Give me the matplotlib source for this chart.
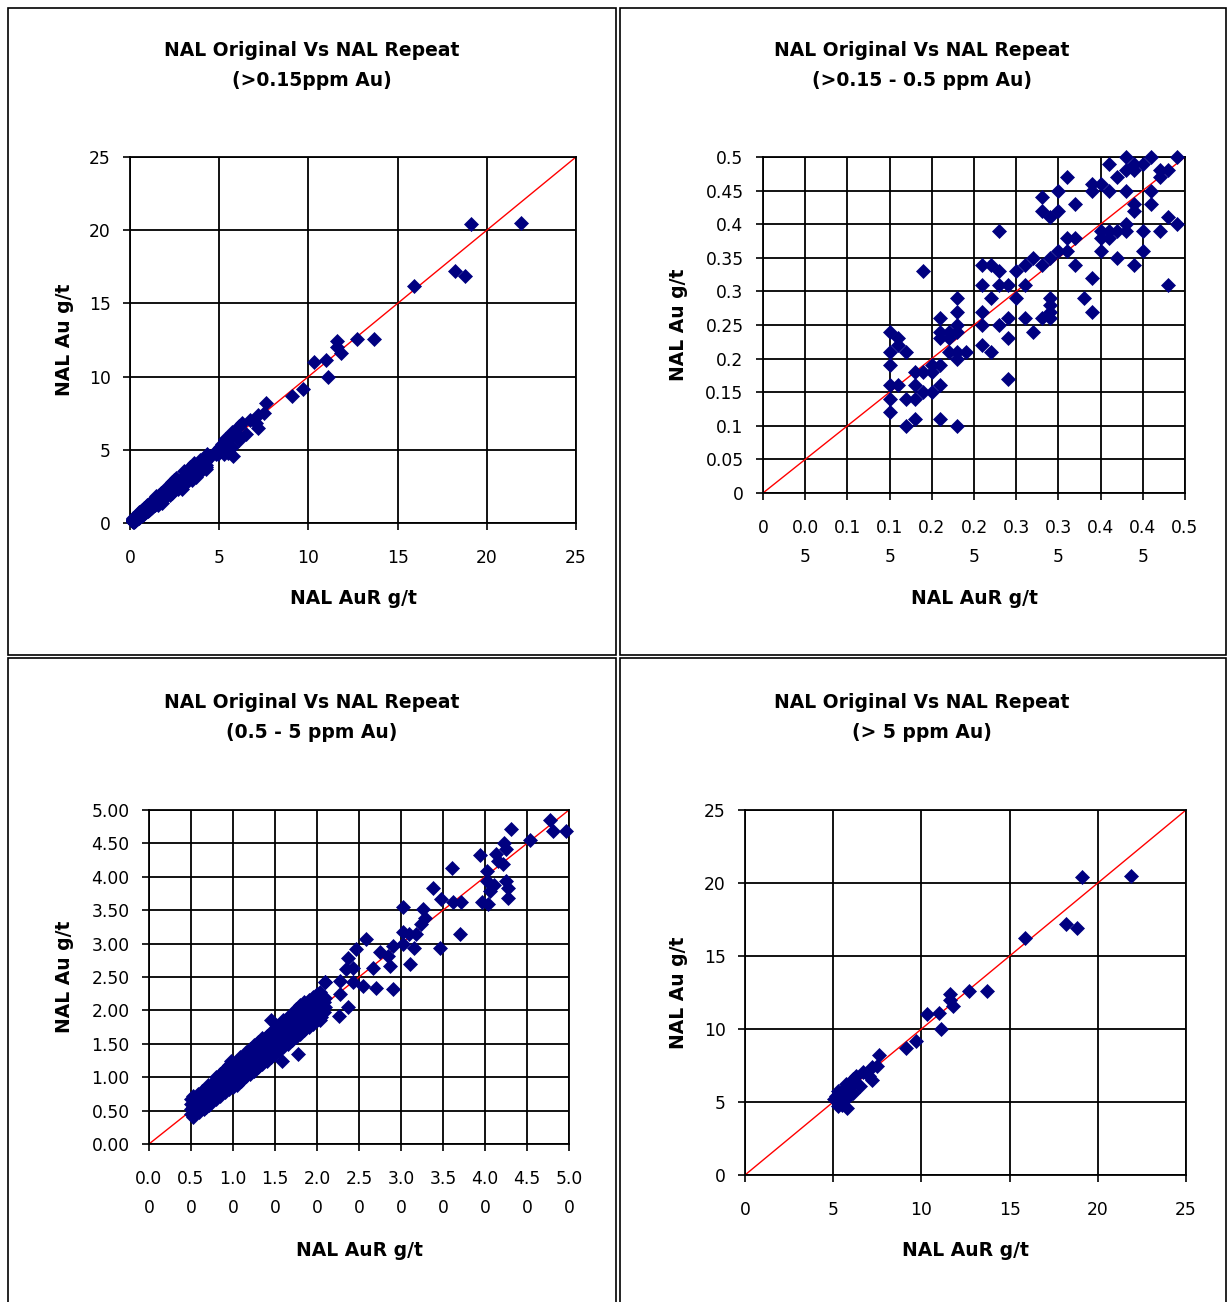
import numpy as np
import matplotlib.pyplot as plt
from matplotlib.patches import Rectangle

# ---- data: x = NAL AuR (repeat) g/t, y = NAL Au (original) g/t ----
# >0.15 - 0.5 ppm Au
low_x = [0.15, 0.15, 0.16, 0.17, 0.16, 0.15, 0.15, 0.16, 0.15, 0.15,
         0.17, 0.17, 0.18, 0.18, 0.18, 0.19, 0.19, 0.18, 0.19, 0.20,
         0.20, 0.21, 0.21, 0.23, 0.21, 0.21, 0.22, 0.21, 0.22, 0.21,
         0.20, 0.23, 0.23, 0.23, 0.23, 0.23, 0.23, 0.24, 0.22, 0.26,
         0.27, 0.28, 0.26, 0.26, 0.26, 0.26, 0.27, 0.27, 0.28, 0.28,
         0.29, 0.28, 0.29, 0.29, 0.29, 0.30, 0.30, 0.31, 0.31, 0.31,
         0.32, 0.33, 0.34, 0.32, 0.33, 0.34, 0.34, 0.34, 0.34, 0.33,
         0.33, 0.34, 0.35, 0.35, 0.36, 0.37, 0.35, 0.36, 0.37, 0.36,
         0.37, 0.38, 0.39, 0.39, 0.39, 0.40, 0.39, 0.41, 0.41, 0.40,
         0.40, 0.41, 0.42, 0.40, 0.41, 0.42, 0.43, 0.43, 0.44, 0.45,
         0.45, 0.47, 0.48, 0.48, 0.49, 0.44, 0.44, 0.46, 0.46, 0.43,
         0.42, 0.43, 0.43, 0.44, 0.46, 0.45, 0.49, 0.47, 0.48, 0.47,
         0.44]
low_y = [0.24, 0.21, 0.22, 0.21, 0.23, 0.19, 0.16, 0.16, 0.14, 0.12,
         0.14, 0.10, 0.11, 0.16, 0.18, 0.18, 0.33, 0.14, 0.15, 0.15,
         0.18, 0.16, 0.11, 0.10, 0.26, 0.24, 0.24, 0.23, 0.21, 0.19,
         0.19, 0.29, 0.27, 0.25, 0.24, 0.21, 0.20, 0.21, 0.23, 0.34,
         0.34, 0.33, 0.31, 0.27, 0.25, 0.22, 0.21, 0.29, 0.39, 0.31,
         0.31, 0.25, 0.26, 0.23, 0.17, 0.29, 0.33, 0.26, 0.31, 0.34,
         0.35, 0.34, 0.35, 0.24, 0.26, 0.26, 0.29, 0.28, 0.27, 0.44,
         0.42, 0.41, 0.45, 0.42, 0.47, 0.43, 0.36, 0.38, 0.38, 0.36,
         0.34, 0.29, 0.32, 0.27, 0.46, 0.46, 0.45, 0.45, 0.49, 0.39,
         0.38, 0.39, 0.39, 0.36, 0.38, 0.35, 0.39, 0.40, 0.34, 0.39,
         0.36, 0.39, 0.31, 0.41, 0.40, 0.43, 0.42, 0.45, 0.43, 0.45,
         0.47, 0.48, 0.50, 0.49, 0.50, 0.49, 0.50, 0.48, 0.48, 0.47,
         0.48]

# 0.5 - 5 ppm Au
mid_x = [0.50, 0.50, 0.50, 0.50, 0.52, 0.52, 0.52, 0.55, 0.55, 0.55,
         0.58, 0.58, 0.58, 0.60, 0.60, 0.60, 0.60, 0.63, 0.63, 0.63,
         0.65, 0.65, 0.65, 0.68, 0.68, 0.68, 0.68, 0.70, 0.70, 0.70,
         0.72, 0.72, 0.75, 0.75, 0.75, 0.75, 0.78, 0.78, 0.78, 0.80,
         0.80, 0.80, 0.80, 0.83, 0.83, 0.85, 0.85, 0.85, 0.85, 0.88,
         0.88, 0.88, 0.90, 0.90, 0.90, 0.90, 0.93, 0.93, 0.95, 0.95,
         0.95, 0.95, 0.98, 0.98, 0.98, 1.00, 1.00, 1.00, 1.00, 1.03,
         1.03, 1.03, 1.05, 1.05, 1.05, 1.05, 1.08, 1.08, 1.08, 1.10,
         1.10, 1.10, 1.10, 1.13, 1.13, 1.13, 1.15, 1.15, 1.15, 1.15,
         1.18, 1.18, 1.18, 1.20, 1.20, 1.20, 1.20, 1.23, 1.23, 1.23,
         1.25, 1.25, 1.25, 1.25, 1.28, 1.28, 1.28, 1.30, 1.30, 1.30,
         1.30, 1.33, 1.33, 1.33, 1.35, 1.35, 1.35, 1.35, 1.38, 1.38,
         1.38, 1.40, 1.40, 1.40, 1.40, 1.43, 1.43, 1.43, 1.45, 1.45,
         1.45, 1.45, 1.48, 1.48, 1.48, 1.50, 1.50, 1.50, 1.50, 1.53,
         1.53, 1.53, 1.55, 1.55, 1.55, 1.55, 1.58, 1.58, 1.58, 1.60,
         1.60, 1.60, 1.60, 1.63, 1.63, 1.63, 1.65, 1.65, 1.65, 1.65,
         1.68, 1.68, 1.68, 1.70, 1.70, 1.70, 1.70, 1.73, 1.73, 1.73,
         1.75, 1.75, 1.75, 1.75, 1.78, 1.78, 1.78, 1.80, 1.80, 1.80,
         1.80, 1.83, 1.83, 1.83, 1.85, 1.85, 1.85, 1.85, 1.88, 1.88,
         1.88, 1.90, 1.90, 1.90, 1.90, 1.93, 1.93, 1.93, 1.95, 1.95,
         1.95, 1.95, 1.98, 1.98, 1.98, 2.00, 2.00, 2.00, 2.00, 2.03,
         2.03, 2.03, 2.03, 2.05, 2.05, 2.05, 2.08, 2.08, 2.10, 2.10,
         # scattered values above ~2
         4.77, 4.81, 4.96, 4.54, 4.31, 4.23, 4.25, 4.13, 3.94, 4.22,
         4.16, 3.61, 4.02, 4.02, 4.11, 4.06, 4.25, 4.27, 4.27, 3.96,
         4.04, 3.38, 3.48, 3.62, 3.72, 3.02, 3.26, 3.28, 3.24, 3.70,
         3.46, 3.02, 3.10, 3.18, 2.58, 2.90, 3.02, 3.15, 2.47, 2.75,
         2.85, 3.11, 2.37, 2.43, 2.35, 2.67, 2.87, 2.10, 2.27, 2.43,
         2.70, 2.90, 2.55, 2.27, 2.37, 2.26, 1.77, 1.58, 1.45, 2.03,
         2.09]
mid_y = [0.45, 0.52, 0.60, 0.68, 0.40, 0.55, 0.72, 0.48, 0.62, 0.58,
         0.50, 0.66, 0.75, 0.55, 0.62, 0.70, 0.48, 0.58, 0.72, 0.80,
         0.52, 0.66, 0.75, 0.60, 0.70, 0.82, 0.55, 0.64, 0.78, 0.88,
         0.58, 0.70, 0.66, 0.78, 0.90, 0.72, 0.70, 0.84, 0.95, 0.68,
         0.76, 0.88, 1.00, 0.75, 0.90, 0.72, 0.82, 0.95, 1.05, 0.80,
         0.92, 1.08, 0.78, 0.86, 1.00, 1.12, 0.85, 0.98, 0.82, 0.92,
         1.05, 1.18, 0.90, 1.02, 1.25, 0.85, 0.95, 1.10, 1.20, 0.92,
         1.05, 1.15, 0.88, 1.00, 1.12, 1.25, 0.98, 1.10, 1.30, 0.95,
         1.05, 1.18, 1.28, 1.00, 1.12, 1.22, 1.02, 1.15, 1.30, 1.38,
         1.08, 1.20, 1.32, 1.05, 1.15, 1.25, 1.42, 1.12, 1.28, 1.40,
         1.10, 1.20, 1.35, 1.48, 1.18, 1.30, 1.45, 1.15, 1.25, 1.40,
         1.52, 1.22, 1.35, 1.50, 1.20, 1.32, 1.45, 1.58, 1.28, 1.42,
         1.55, 1.25, 1.38, 1.50, 1.62, 1.32, 1.48, 1.60, 1.30, 1.42,
         1.55, 1.68, 1.38, 1.52, 1.65, 1.35, 1.48, 1.60, 1.72, 1.42,
         1.58, 1.70, 1.40, 1.52, 1.65, 1.78, 1.48, 1.62, 1.75, 1.45,
         1.58, 1.70, 1.85, 1.55, 1.68, 1.82, 1.50, 1.62, 1.78, 1.90,
         1.58, 1.72, 1.88, 1.55, 1.68, 1.82, 1.95, 1.62, 1.78, 1.92,
         1.60, 1.72, 1.88, 2.02, 1.68, 1.82, 1.98, 1.65, 1.78, 1.92,
         2.08, 1.72, 1.88, 2.02, 1.70, 1.82, 1.98, 2.12, 1.78, 1.92,
         2.08, 1.75, 1.88, 2.02, 2.15, 1.82, 1.98, 2.10, 1.80, 1.92,
         2.05, 2.20, 1.88, 2.02, 2.15, 1.85, 1.98, 2.10, 2.25, 1.85,
         1.95, 2.08, 2.28, 1.90, 2.02, 2.15, 1.98, 2.12, 2.05, 2.18,
         4.85, 4.68, 4.68, 4.55, 4.72, 4.50, 4.42, 4.34, 4.33, 4.19,
         4.24, 4.13, 4.09, 3.94, 3.87, 3.79, 3.94, 3.83, 3.69, 3.62,
         3.59, 3.83, 3.67, 3.62, 3.62, 3.55, 3.52, 3.39, 3.29, 3.14,
         2.94, 3.17, 3.14, 3.14, 3.07, 2.97, 2.99, 2.94, 2.92, 2.87,
         2.82, 2.69, 2.79, 2.64, 2.62, 2.64, 2.67, 2.42, 2.44, 2.42,
         2.34, 2.32, 2.37, 2.25, 2.05, 1.92, 1.35, 1.25, 1.85, 2.15,
         2.43]

# > 5 ppm Au
high_x = [19.1, 21.9, 18.2, 18.8, 15.9, 13.7, 12.7, 11.6, 11.6, 11.8,
          10.3, 11.0, 11.1, 9.7, 9.1, 7.6, 7.5, 7.2, 7.05, 7.2,
          6.7, 6.3, 6.1, 6.0, 5.7, 5.6, 5.3, 5.15, 5.05, 5.3,
          5.5, 5.8, 5.25, 5.7, 6.1, 6.5, 5.45]
high_y = [20.4, 20.5, 17.2, 16.9, 16.2, 12.6, 12.6, 12.4, 12.0, 11.6,
          11.0, 11.1, 10.0, 9.15, 8.7, 8.2, 7.5, 7.4, 6.8, 6.5,
          7.05, 6.8, 6.6, 6.1, 6.2, 5.9, 5.75, 5.4, 5.2, 5.05,
          4.8, 4.6, 4.7, 5.2, 5.65, 6.1, 5.4]

all_x = low_x + mid_x + high_x
all_y = low_y + mid_y + high_y

ticks_25 = [0, 5, 10, 15, 20, 25]
labels_25 = ['0', '5', '10', '15', '20', '25']
ticks_05 = [0, 0.05, 0.1, 0.15, 0.2, 0.25, 0.3, 0.35, 0.4, 0.45, 0.5]
ylabels_05 = ['0', '0.05', '0.1', '0.15', '0.2', '0.25', '0.3', '0.35',
              '0.4', '0.45', '0.5']
xlabels_05 = ['0', '0.0\n5', '0.1', '0.1\n5', '0.2', '0.2\n5', '0.3',
              '0.3\n5', '0.4', '0.4\n5', '0.5']
ticks_5 = [0, 0.5, 1, 1.5, 2, 2.5, 3, 3.5, 4, 4.5, 5]
ylabels_5 = ['0.00', '0.50', '1.00', '1.50', '2.00', '2.50', '3.00',
             '3.50', '4.00', '4.50', '5.00']
xlabels_5 = ['0.0\n0', '0.5\n0', '1.0\n0', '1.5\n0', '2.0\n0', '2.5\n0',
             '3.0\n0', '3.5\n0', '4.0\n0', '4.5\n0', '5.0\n0']

W, H = 1227, 1302
fig = plt.figure(figsize=(W / 100, H / 100), dpi=100)
fig.patch.set_facecolor('white')

# panel frames (pixel boxes)
for l, t, r, b in [(8, 8, 616, 655), (620, 8, 1226, 655),
                   (8, 658, 616, 1310), (620, 658, 1226, 1310)]:
    fig.patches.append(Rectangle((l / W, 1 - b / H), (r - l) / W, (b - t) / H,
                                 transform=fig.transFigure, fill=False,
                                 edgecolor='black', lw=1.2))

panels = [
    dict(box=(130, 157, 576, 523), lim=25, x=all_x, y=all_y,
         ticks=ticks_25, xl=labels_25, yl=labels_25,
         sub='(>0.15ppm Au)', tcx=312, ty=50, xlab_y=598, ylab_x=65),
    dict(box=(763, 157, 1185, 493), lim=0.5, x=low_x, y=low_y,
         ticks=ticks_05, xl=xlabels_05, yl=ylabels_05,
         sub='(>0.15 - 0.5 ppm Au)', tcx=922, ty=50, xlab_y=598, ylab_x=678),
    dict(box=(149, 810, 569, 1144), lim=5, x=mid_x, y=mid_y,
         ticks=ticks_5, xl=xlabels_5, yl=ylabels_5,
         sub='(0.5 - 5 ppm Au)', tcx=312, ty=703, xlab_y=1250, ylab_x=65),
    dict(box=(745, 810, 1186, 1175), lim=25, x=high_x, y=high_y,
         ticks=ticks_25, xl=labels_25, yl=labels_25,
         sub='(> 5 ppm Au)', tcx=922, ty=703, xlab_y=1250, ylab_x=678),
]

bold = dict(fontsize=13.5, fontweight='bold', family='DejaVu Sans')

for p in panels:
    l, t, r, b = p['box']
    ax = fig.add_axes([l / W, 1 - b / H, (r - l) / W, (b - t) / H])
    lim = p['lim']
    ax.set_xlim(0, lim)
    ax.set_ylim(0, lim)
    ax.set_xticks(p['ticks'], labels=p['xl'], linespacing=1.75)
    ax.set_yticks(p['ticks'], labels=p['yl'])
    ax.tick_params(direction='out', length=5, width=1.2, labelsize=12.3,
                   colors='black')
    ax.tick_params(axis='x', pad=14)
    ax.tick_params(axis='y', pad=9)
    ax.grid(True, color='black', lw=1.3)
    ax.set_axisbelow(True)
    for s in ax.spines.values():
        s.set_linewidth(1.3)
    ax.plot([0, lim], [0, lim], color='red', lw=1, zorder=2)
    ax.plot(p['x'], p['y'], 'D', color='#000080', ms=6.8, mec='#000080',
            mew=0.5, zorder=3, clip_on=False)

    cx = (l + r) / 2 / W
    fig.text(p['tcx'] / W, 1 - p['ty'] / H, 'NAL Original Vs NAL Repeat',
             ha='center', va='center', **bold)
    fig.text(p['tcx'] / W, 1 - (p['ty'] + 30) / H, p['sub'],
             ha='center', va='center', **bold)
    fig.text(cx, 1 - p['xlab_y'] / H, 'NAL AuR g/t', ha='center',
             va='center', **bold)
    fig.text(p['ylab_x'] / W, 1 - (t + b) / 2 / H, 'NAL Au g/t', ha='center',
             va='center', rotation=90, **bold)

fig.savefig('out.png', dpi=100)
